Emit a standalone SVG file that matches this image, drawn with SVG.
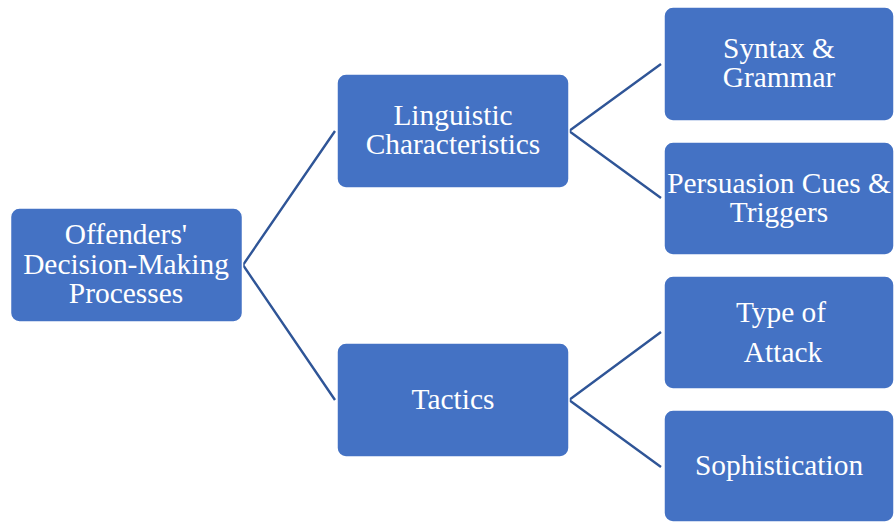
<svg xmlns="http://www.w3.org/2000/svg" width="894" height="523" viewBox="0 0 894 523">
<style>
.box{fill:#4472C4;stroke:#FFFFFF;stroke-width:1.5}
.t{font-family:"Liberation Serif","Times New Roman",serif;font-size:29.4px;fill:#FFFFFF;text-anchor:middle}
.c{stroke:#2F5597;stroke-width:2.4;fill:none}
</style>
<rect width="894" height="523" fill="#FFFFFF"/>
<g id="connectors">
<polyline class="c" points="335,131 243,265 335,400"/>
<polyline class="c" points="661,64 569,131 661,198"/>
<polyline class="c" points="661,332 569,400 661,467"/>
</g>
<g id="root">
<rect class="box" x="10.5" y="208" width="232" height="114" rx="9"/>
<text class="t" x="126" y="244">Offenders'</text>
<text class="t" x="126" y="274">Decision-Making</text>
<text class="t" x="126" y="303">Processes</text>
</g>
<g id="linguistic">
<rect class="box" x="337" y="74" width="232" height="114" rx="9"/>
<text class="t" x="453" y="125">Linguistic</text>
<text class="t" x="453" y="154">Characteristics</text>
</g>
<g id="tactics">
<rect class="box" x="337" y="343" width="232" height="114" rx="9"/>
<text class="t" x="453" y="409">Tactics</text>
</g>
<g id="syntax">
<rect class="box" x="664" y="7" width="230" height="114" rx="9"/>
<text class="t" x="779" y="58">Syntax &amp;</text>
<text class="t" x="779" y="87">Grammar</text>
</g>
<g id="persuasion">
<rect class="box" x="664" y="142" width="230" height="113" rx="9"/>
<text class="t" x="779" y="193">Persuasion Cues &amp;</text>
<text class="t" x="779" y="222">Triggers</text>
</g>
<g id="type">
<rect class="box" x="664" y="276" width="230" height="113" rx="9"/>
<text class="t" x="781" y="322">Type of</text>
<text class="t" x="783" y="362">Attack</text>
</g>
<g id="sophistication">
<rect class="box" x="664" y="410" width="230" height="112" rx="9"/>
<text class="t" x="779" y="475">Sophistication</text>
</g>
</svg>
